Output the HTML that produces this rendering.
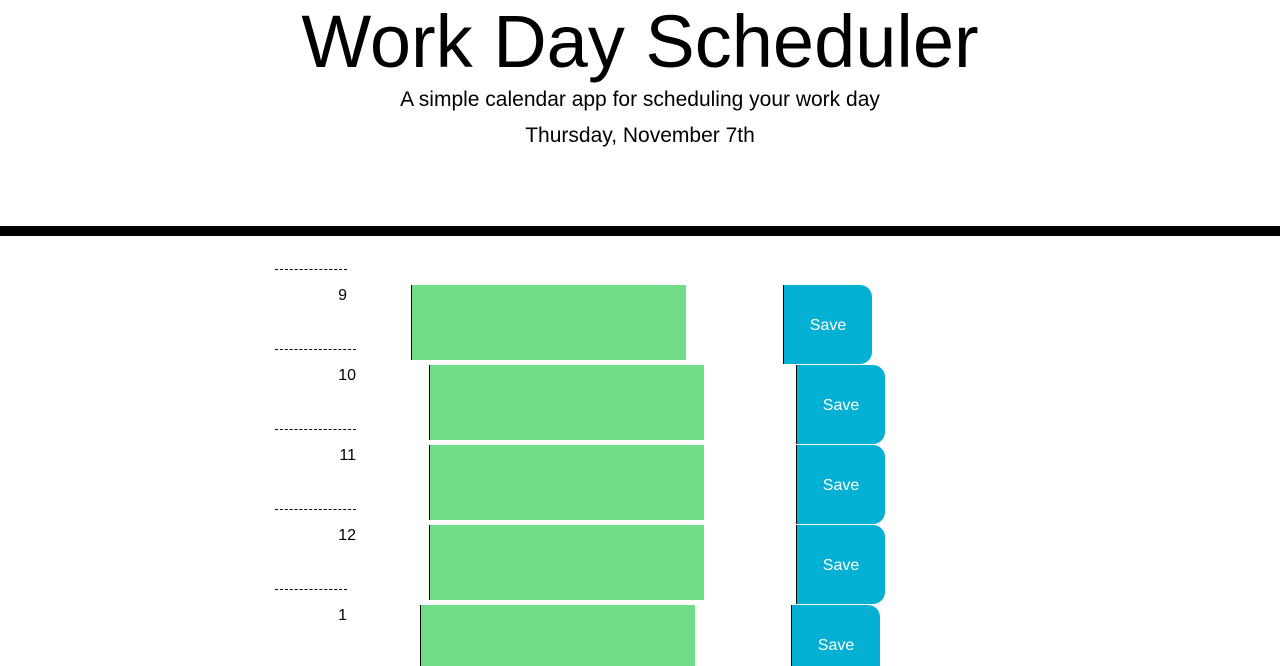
<!DOCTYPE html>
<html><head><meta charset="utf-8"><style>
html,body{margin:0;width:1280px;height:666px;overflow:hidden}
body{background:#fff;font-family:"Liberation Sans",sans-serif;position:relative}
.a{position:absolute}
.t{left:0;width:1280px;text-align:center;color:#000}
.dl{position:absolute;height:0;border-top:1px dashed #000}
.h{position:absolute;font-size:16px;text-align:right;color:#000}
.ta{position:absolute;background:#6fdd86;border-left:1px solid #000;width:274px;height:75px}
.b{position:absolute;background:#04b0d3;border-left:1px solid #000;border-radius:0 12px 12px 0;width:89px;height:79px;color:#fff;font-size:16px;display:flex;align-items:center;justify-content:center;padding-top:2px;box-sizing:border-box}
</style></head><body>
<div class="a t" style="top:-3px;font-size:74px;line-height:90px">Work Day Scheduler</div>
<div class="a t" style="top:88px;font-size:21px;line-height:24px">A simple calendar app for scheduling your work day</div>
<div class="a t" style="top:124px;font-size:21px;line-height:24px">Thursday, November 7th</div>
<div class="a" style="left:0;top:226px;width:1280px;height:10px;background:#000"></div>

<div class="dl" style="left:275px;top:269px;width:72px"></div>
<div class="h" style="left:300px;top:287px;width:47px">9</div>
<div class="ta" style="left:411px;top:285px"></div>
<div class="b" style="left:783px;top:285px">Save</div>

<div class="dl" style="left:275px;top:349px;width:81px"></div>
<div class="h" style="left:300px;top:367px;width:56px">10</div>
<div class="ta" style="left:429px;top:365px"></div>
<div class="b" style="left:796px;top:365px">Save</div>

<div class="dl" style="left:275px;top:429px;width:81px"></div>
<div class="h" style="left:300px;top:447px;width:56px">11</div>
<div class="ta" style="left:429px;top:445px"></div>
<div class="b" style="left:796px;top:445px">Save</div>

<div class="dl" style="left:275px;top:509px;width:81px"></div>
<div class="h" style="left:300px;top:527px;width:56px">12</div>
<div class="ta" style="left:429px;top:525px"></div>
<div class="b" style="left:796px;top:525px">Save</div>

<div class="dl" style="left:275px;top:589px;width:72px"></div>
<div class="h" style="left:300px;top:607px;width:47px">1</div>
<div class="ta" style="left:420px;top:605px"></div>
<div class="b" style="left:791px;top:605px">Save</div>
</body></html>
